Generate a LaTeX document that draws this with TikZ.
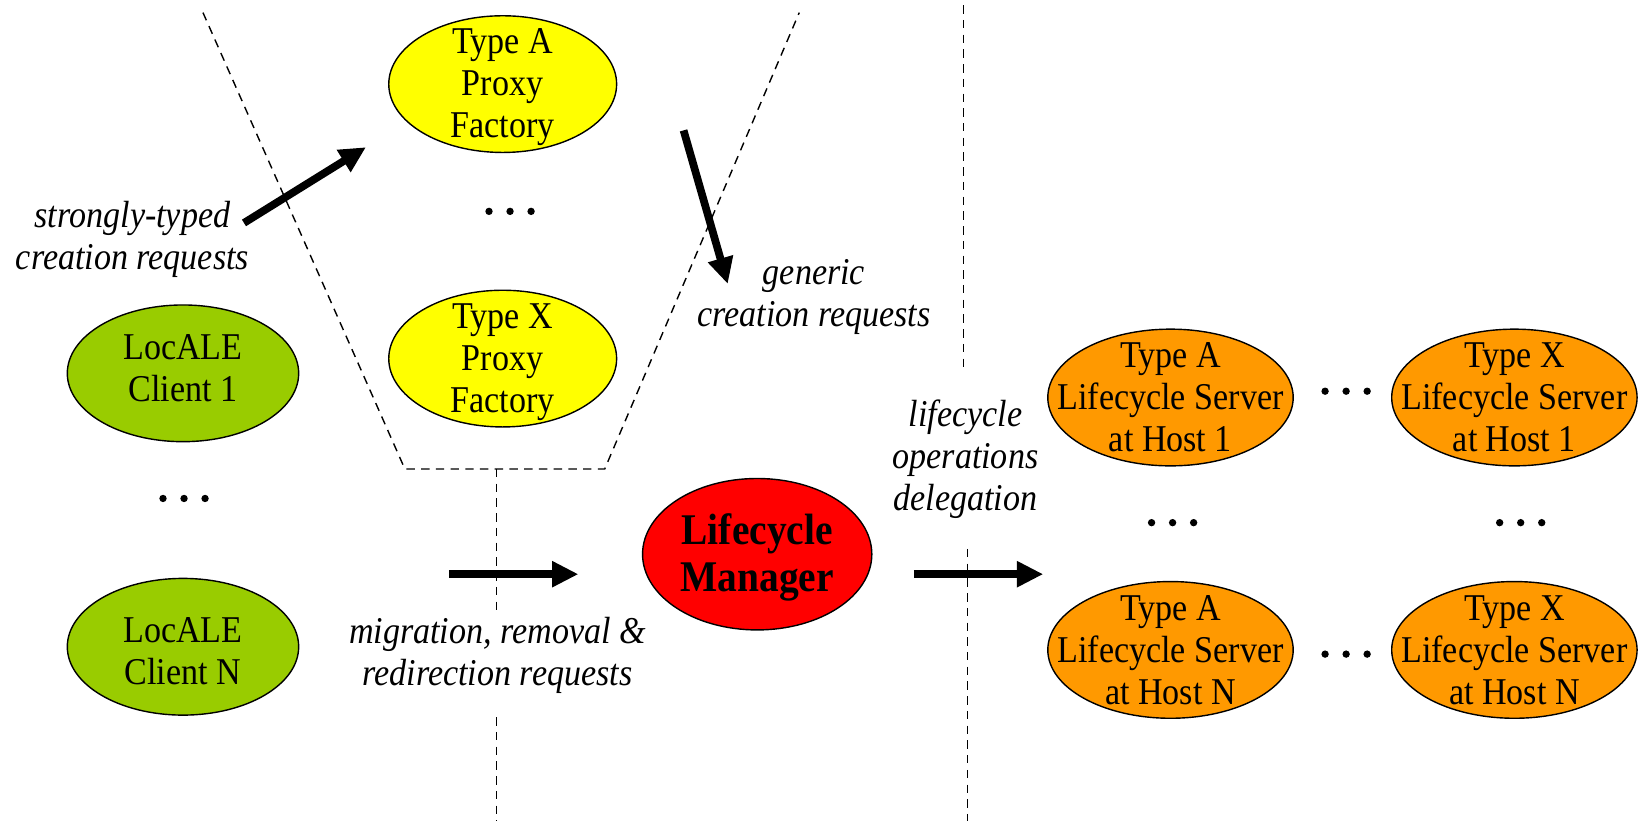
\documentclass[tikz,border=0pt]{standalone}
\usepackage{fontspec}
\setmainfont{Liberation Serif}[FakeStretch=0.9]
\usetikzlibrary{arrows.meta,shapes.geometric}

\definecolor{factoryfill}{HTML}{FFFF00}
\definecolor{clientfill}{HTML}{99CC00}
\definecolor{managerfill}{HTML}{FF0000}
\definecolor{serverfill}{HTML}{FF9900}

\begin{document}
\begin{tikzpicture}[x=0.3pt,y=-0.3pt,
  blob/.style={ellipse, draw=black, line width=0.4pt, inner sep=0pt},
  factory/.style={blob, fill=factoryfill, minimum width=65pt, minimum height=39pt},
  client/.style={blob, fill=clientfill, minimum width=66pt, minimum height=39pt},
  manager/.style={blob, fill=managerfill, minimum width=65.4pt, minimum height=43.2pt},
  server/.style={blob, fill=serverfill, minimum width=70pt, minimum height=39pt},
  txt/.style={inner sep=0pt, align=center, font=\fontsize{10.8}{12}\selectfont},
  boldtxt/.style={inner sep=0pt, align=center, font=\fontsize{12.5}{13.5}\selectfont\bfseries},
  note/.style={inner sep=0pt, align=center, font=\fontsize{10.8}{12}\selectfont\itshape},
  border/.style={dash pattern=on 2.4pt off 1.8pt, line width=0.4pt},
  flow/.style={line width=2.2pt, -{Triangle[length=7.5pt,width=7pt]}},
  dotrow/.style={inner sep=0pt, minimum width=17pt, minimum height=3pt,
    path picture={\foreach \dx in {-6pt,0pt,6pt}
      \fill ([xshift=\dx]path picture bounding box.center) circle (1.05pt);}}
]
\useasboundingbox (0,0) rectangle (1568,792);

% dashed boundaries
\draw[border] (193,12) -- (385,446) -- (575,446) -- (760,12);
\draw[border] (472,446) -- (472,583);
\draw[border] (472,682) -- (472,781);
\draw[border] (916,5) -- (916,352);
\draw[border] (920,522) -- (920,781);

% proxy factories
\node[factory] (fa) at (478,80) {};
\node[txt, yshift=-0.9pt] (faT) at (fa) {Type A\\Proxy\\Factory};
\node[factory] (fx) at (478,341) {};
\node[txt, yshift=-0.9pt] (fxT) at (fx) {Type X\\Proxy\\Factory};
\node[dotrow] (fdots) at (485,201) {};

% clients
\node[client] (c1) at (174,355) {};
\node[txt, yshift=1.5pt] (c1T) at (c1) {LocALE\\Client 1};
\node[client] (cn) at (174,615) {};
\node[txt, yshift=-1.2pt] (cnT) at (cn) {LocALE\\Client N};
\node[dotrow] (cdots) at (175,474) {};

% lifecycle manager
\node[manager] (lm) at (720,527) {};
\node[boldtxt, yshift=-0.9pt] (lmT) at (lm) {Lifecycle\\Manager};

% lifecycle servers
\node[server] (sa1) at (1113,378) {};
\node[txt] (sa1T) at (sa1) {Type A\\Lifecycle Server\\at Host 1};
\node[server] (sx1) at (1440,378) {};
\node[txt] (sx1T) at (sx1) {Type X\\Lifecycle Server\\at Host 1};
\node[server] (san) at (1113,618) {};
\node[txt] (sanT) at (san) {Type A\\Lifecycle Server\\at Host N};
\node[server] (sxn) at (1440,618) {};
\node[txt] (sxnT) at (sxn) {Type X\\Lifecycle Server\\at Host N};
\node[dotrow] (rdots1) at (1280,372) {};
\node[dotrow] (rdotsn) at (1280,622) {};
\node[dotrow] (adots) at (1115,497) {};
\node[dotrow] (xdots) at (1446,497) {};

% request flows
\coordinate (st0) at (232,212);
\coordinate (st1) at (348,140);
\coordinate (ge0) at (650,124);
\coordinate (ge1) at (692,270);
\coordinate (mi0) at (427,546);
\coordinate (mi1) at (550,546);
\coordinate (de0) at (869,546);
\coordinate (de1) at (992,546);
\draw[flow] (st0) -- (st1);
\draw[flow] (ge0) -- (ge1);
\draw[flow] (mi0) -- (mi1);
\draw[flow] (de0) -- (de1);

% flow labels
\node[note] (stL) at (126,228) {strongly-typed\\creation requests};
\node[note] (geL) at (774,282) {generic\\creation requests};
\node[note] (miL) at (473,623) {migration, removal \&\\redirection requests};
\node[note] (deL) at (918,437) {lifecycle\\operations\\delegation};
\end{tikzpicture}
\end{document}
